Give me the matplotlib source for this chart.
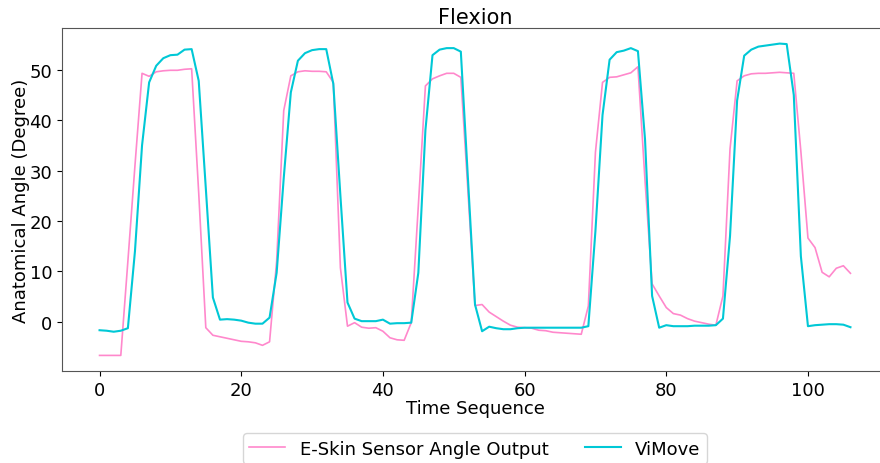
import matplotlib
matplotlib.use("Agg")
import matplotlib.pyplot as plt
import numpy as np

time_seq = list(range(107))

eskin = [-6.7, -6.7, -6.7, -6.7, 12.0, 31.0, 49.3, 48.7, 49.6, 49.8,
         49.9, 49.9, 50.1, 50.2, 25.5, -1.2, -2.7, -3.0, -3.3, -3.6,
         -3.9, -4.0, -4.2, -4.7, -4.0, 12.0, 41.9, 48.8, 49.6, 49.8,
         49.7, 49.7, 49.6, 47.5, 10.7, -0.9, -0.2, -1.1, -1.3, -1.2,
         -1.9, -3.2, -3.6, -3.7, -0.2, 23.0, 46.8, 48.2, 48.8, 49.3,
         49.3, 48.5, 26.0, 3.2, 3.4, 1.9, 1.0, 0.1, -0.7, -1.1,
         -1.2, -1.3, -1.7, -1.8, -2.1, -2.2, -2.3, -2.4, -2.5, 3.1,
         33.6, 47.5, 48.5, 48.6, 49.0, 49.4, 50.6, 28.0, 7.5, 5.1,
         2.8, 1.6, 1.3, 0.6, 0.1, -0.2, -0.5, -0.7, 5.1, 34.3,
         47.8, 48.8, 49.2, 49.3, 49.3, 49.4, 49.5, 49.4, 49.3, 33.8,
         16.6, 14.7, 9.8, 8.9, 10.6, 11.1, 9.6]

vimove = [-1.7, -1.8, -2.0, -1.8, -1.3, 14.0, 35.0, 47.5, 50.8, 52.3,
          52.9, 53.0, 54.0, 54.1, 47.8, 26.5, 4.8, 0.4, 0.5, 0.4,
          0.2, -0.2, -0.4, -0.4, 0.8, 9.7, 28.5, 45.5, 51.8, 53.3,
          53.9, 54.1, 54.1, 47.2, 25.0, 3.8, 0.6, 0.1, 0.1, 0.1,
          0.4, -0.4, -0.3, -0.3, -0.2, 9.7, 38.0, 52.9, 54.0, 54.3,
          54.3, 53.6, 28.5, 3.4, -1.9, -1.0, -1.3, -1.5, -1.5, -1.3,
          -1.2, -1.2, -1.2, -1.2, -1.2, -1.2, -1.2, -1.2, -1.2, -0.9,
          18.0, 41.0, 52.0, 53.5, 53.8, 54.3, 53.7, 36.2, 5.1, -1.2,
          -0.7, -0.9, -0.9, -0.9, -0.8, -0.8, -0.8, -0.7, 0.6, 17.0,
          43.9, 52.8, 54.0, 54.6, 54.8, 55.0, 55.2, 55.1, 45.0, 13.0,
          -0.9, -0.7, -0.6, -0.5, -0.5, -0.6, -1.1]

labels = ["E-Skin Sensor Angle Output", "ViMove"]

fig = plt.figure(figsize=(8.8, 4.64), dpi=100)
ax = fig.add_axes([62 / 880, (464 - 372) / 464, (888 - 62) / 880, 343 / 464])

ax.plot(time_seq, eskin, color="#ff88cc", lw=1.2, label=labels[0])
ax.plot(time_seq, vimove, color="#00c8d6", lw=1.5, label=labels[1])

ax.set_title("Flexion", fontsize=15, pad=3.5)
ax.set_xlabel("Time Sequence", fontsize=13, labelpad=0)
ax.set_ylabel("Anatomical Angle (Degree)", fontsize=13, labelpad=0)
ax.tick_params(labelsize=13)
ax.set_xticks([0, 20, 40, 60, 80, 100])
ax.set_yticks([0, 10, 20, 30, 40, 50])
for s in ax.spines.values():
    s.set_color("#555555")

ax.legend(loc="upper center", bbox_to_anchor=(0.5, -0.155), ncol=2,
          fontsize=13, frameon=True, borderpad=0.35)

fig.savefig("out.png", dpi=100)
